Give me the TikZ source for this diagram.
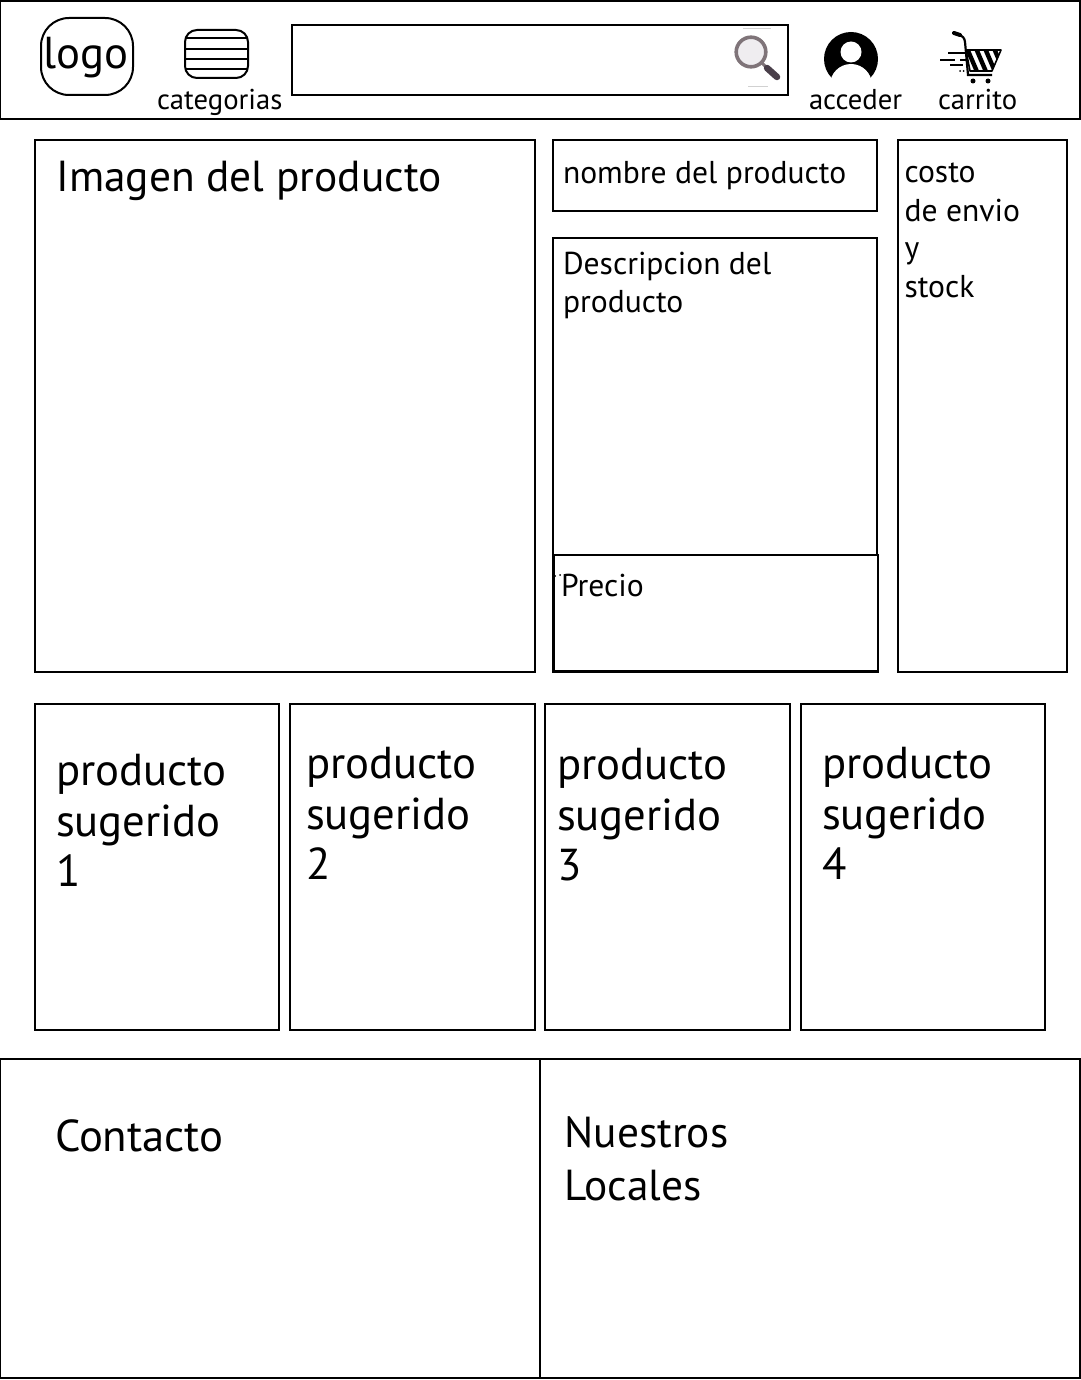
\documentclass[tikz,border=0pt]{standalone}
\usepackage{fontspec}
\setmainfont{PT Sans}
\definecolor{ringcol}{HTML}{7F7479}
\definecolor{lenscol}{HTML}{EFEDF0}
\definecolor{handlecol}{HTML}{4A3F4A}
\tikzset{
  x=1pt,y=-1pt,
  box/.style={draw=black,line width=2pt,fill=white,inner sep=0pt,outer sep=0pt,anchor=north west},
  lbl/.style={inner sep=0pt,outer sep=0pt,anchor=base west,align=left,text=black},
  tiny/.style={lbl,font=\fontsize{28.7}{35}\selectfont},
  small/.style={lbl,font=\fontsize{31.6}{38}\selectfont},
  big/.style={lbl,font=\fontsize{44.7}{51}\selectfont},
  mid/.style={lbl,font=\fontsize{43.4}{51}\selectfont},
}
\newcommand{\bx}[6][box]{\node[#1,minimum width=#5pt,minimum height=#6pt] (#2) at (#3,#4) {};}
\begin{document}
\begin{tikzpicture}
\useasboundingbox (0,0) rectangle (1080,1380);
\bx{header}{0}{1}{1080}{118}
\bx{search}{292}{25}{496}{70}
\bx[box,rounded corners=28pt]{logobox}{41}{18}{92}{77}
\bx[box,rounded corners=12pt]{catbox}{185}{30}{63}{48}
\coordinate (c1) at (185,38); \coordinate (c2) at (185,49); \coordinate (c3) at (185,59); \coordinate (c4) at (185,69);
\coordinate (d1) at (248,38); \coordinate (d2) at (248,49); \coordinate (d3) at (248,59); \coordinate (d4) at (248,69);
\draw[line width=2pt] (c1)--(d1) (c2)--(d2) (c3)--(d3) (c4)--(d4);
\bx{imagen}{35}{140}{500}{532}
\bx{nombre}{553}{140}{324}{71}
\bx{descr}{553}{238}{324}{317}
\bx[box,line width=2.4pt]{precio}{553.5}{555}{324.5}{116.5}
\bx{costo}{898}{140}{169}{532}
\bx{sugA}{35}{704}{244}{326}
\bx{sugB}{290}{704}{245}{326}
\bx{sugC}{545}{704}{245}{326}
\bx{sugD}{801}{704}{244}{326}
\bx{contacto}{0}{1059}{540}{319}
\bx{locales}{540}{1059}{540}{319}
% magnifier
\draw[line width=1pt,black!18] (743,29)--(771,29) (748,87)--(768,87);
\draw[line width=3.6pt,draw=ringcol,fill=lenscol] (751,52) circle (14.8);
\draw[line width=3pt,draw=ringcol] (762,63)--(767,68);
\draw[line width=6.5pt,draw=handlecol,line cap=round] (767,68)--(777,77);
% person
\fill[black] (851,59) circle (27);
\fill[white] (851,52) circle (10.5);
\fill[white] (851,85) ellipse (21 and 21);
% cart
\draw[line width=4pt,line cap=round] (954,33)--(960,35);
\draw[line width=2.2pt] (958,34.5) .. controls (963,36) and (964.5,38) .. (965,42)--(968,75)--(992,75);
\begin{scope}
\clip (966,50)--(1001,50)--(992,71)--(970,71)--cycle;
\foreach \a in {0,9,18,27} \draw[black,line width=4.4pt] (966+\a,46)--(978+\a,74);
\end{scope}
\draw[line width=1.6pt,line join=round] (966,50)--(1001,50)--(992,71)--(970,71)--cycle;
\fill (973,81) circle (2.5) (988,81) circle (2.5);
\draw[line width=1.8pt] (948,53)--(965,53) (940,60)--(955,60) (960,60)--(966,60) (950,65)--(963,65);
\fill (960,71) circle (1) (963.5,71) circle (1);
% stray marks beside the price
\fill (555,576) circle (1) (560,575) circle (1);
% labels
\node[big] (tlogo) at (43.5,69) {logo};
\node[tiny] (tcat) at (157,110) {categorias};
\node[tiny] (tacc) at (809,110) {acceder};
\node[tiny] (tcar) at (938,110) {carrito};
\node[mid] (timg) at (56.5,192) {Imagen del producto};
\node[small] (tnom) at (563,183.5) {nombre del producto};
\node[small] (tdes) at (563,274) {Descripcion del};
\node[small] (tdes2) at (563,312) {producto};
\node[small] (tpre) at (561,596) {Precio};
\node[small] (tcos1) at (904.5,182.5) {costo};
\node[small] (tcos2) at (904.5,221.5) {de envio};
\node[small] (tcos3) at (904.5,258.5) {y};
\node[small] (tcos4) at (904.5,297) {stock};
\foreach \nm/\x/\y/\n in {a/56/785/1,b/306/778/2,c/557/779/3,d/822/778/4}{
  \node[big] (s\nm1) at (\x,\y) {producto};
  \node[big] (s\nm2) at (\x,\y+51) {sugerido};
  \node[big] (s\nm3) at (\x,\y+101) {\n};
}
\node[big] (tcon) at (55,1151) {Contacto};
\node[mid] (tnue) at (564.5,1147) {Nuestros};
\node[mid] (tloc) at (564.5,1200) {Locales};
\end{tikzpicture}
\end{document}
